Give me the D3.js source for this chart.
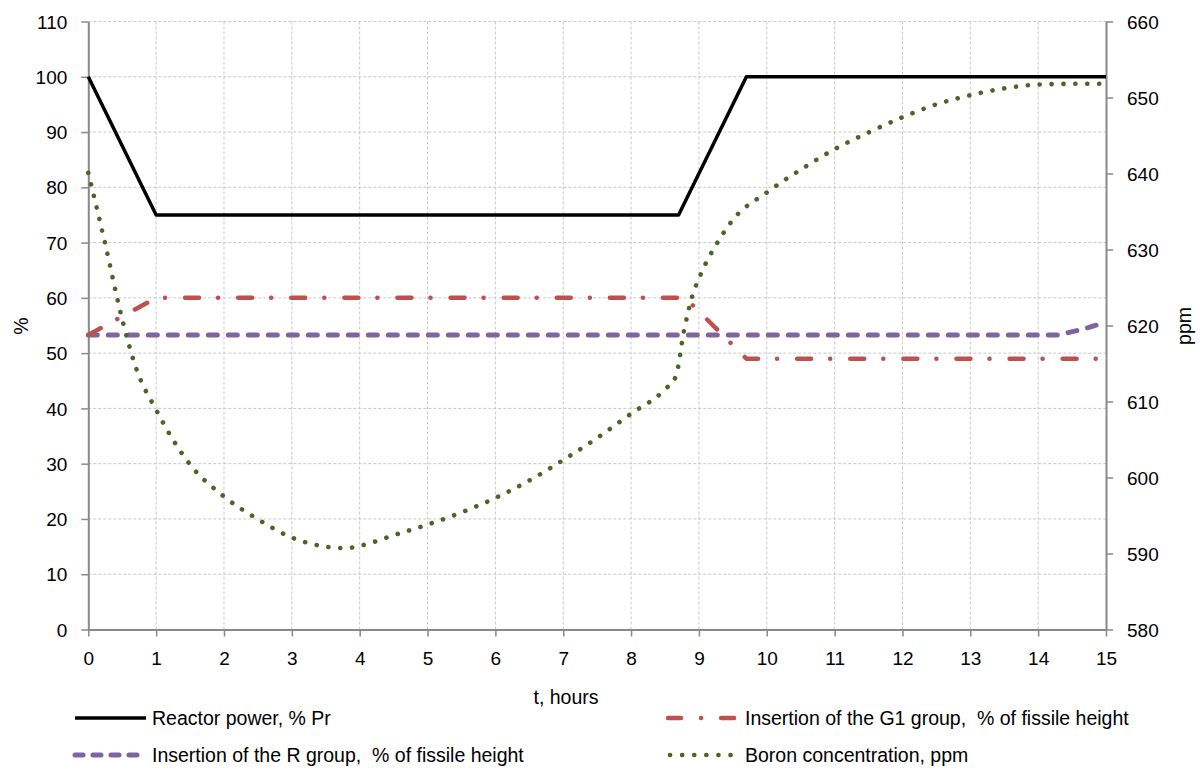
<!DOCTYPE html>
<html>
<head>
<meta charset="utf-8">
<script src="https://cdn.jsdelivr.net/npm/d3@7"></script>
<style>
  html, body { margin: 0; padding: 0; background: #fff; }
  text { font-family: "Liberation Sans", Arial, sans-serif; fill: #000; white-space: pre; }
</style>
</head>
<body>
<svg id="chart" width="1202" height="772"></svg>
<script>
// ---- Data ----
const xTicks = [0,1,2,3,4,5,6,7,8,9,10,11,12,13,14,15];
const yLeftTicks = [0,10,20,30,40,50,60,70,80,90,100,110];
const yRightTicks = [580,590,600,610,620,630,640,650,660];

const powerT = [0, 1, 8.7, 9.7, 15];
const powerV = [100, 75, 75, 100, 100];

const g1T = [0, 1, 8.8, 9.7, 15];
const g1V = [53.3, 60, 60, 49, 49];

const rT = [0, 14.3, 14.65, 15];
const rV = [53.3, 53.3, 54.3, 55.6];

const boronT = [0, 0.25, 0.5, 0.7, 1, 1.5, 2, 2.5, 3, 3.5, 3.8, 4, 4.5, 5, 5.5, 6, 6.5, 7, 7.5, 8, 8.5, 8.66, 8.78, 8.9, 9.03, 9.3, 9.5, 10, 10.5, 11, 11.5, 12, 12.5, 13, 13.5, 14, 14.5, 15];
const boronV = [640.1, 630.7, 620.8, 614.5, 608.9, 601.7, 597.5, 594.5, 592.1, 590.9, 590.7, 591.0, 592.4, 593.8, 595.4, 597.3, 599.6, 602.3, 605.2, 608.4, 611.6, 613.3, 619.3, 623.8, 626.8, 631.3, 633.9, 637.5, 640.5, 643.2, 645.4, 647.4, 649.1, 650.3, 651.2, 651.7, 651.8, 651.8];

const legendLabels = [
  "Reactor power, % Pr",
  "Insertion of the G1 group,  % of fissile height",
  "Insertion of the R group,  % of fissile height",
  "Boron concentration, ppm"
];

// ---- Layout ----
const svg = d3.select("#chart");
const L = 88.3, R = 1106, T = 21.5, B = 629.5;
const x = d3.scaleLinear().domain([0, 15]).range([L, R]);
const yL = d3.scaleLinear().domain([0, 110]).range([B, T]);
const yR = d3.scaleLinear().domain([580, 660]).range([B, T]);

const axisColor = "#898989";
const gridColor = "#c8c8c8";

// gridlines
const grid = svg.append("g");
grid.selectAll("line.h").data(yLeftTicks.slice(1)).enter().append("line")
  .attr("x1", L).attr("x2", R).attr("y1", d => yL(d)).attr("y2", d => yL(d))
  .attr("stroke", gridColor).attr("stroke-width", 1).attr("stroke-dasharray", "3,2");
grid.selectAll("line.v").data(xTicks.slice(1, -1)).enter().append("line")
  .attr("x1", d => x(d)).attr("x2", d => x(d)).attr("y1", T).attr("y2", B)
  .attr("stroke", gridColor).attr("stroke-width", 1).attr("stroke-dasharray", "3,2");

// axes
function styleAxis(g) {
  g.select(".domain").attr("stroke", axisColor).attr("stroke-width", 2);
  g.selectAll(".tick line").attr("stroke", axisColor).attr("stroke-width", 1.5);
  g.selectAll(".tick text").style("font-size", "19px").style("font-family", "'Liberation Sans', Arial, sans-serif").attr("fill", "#000");
}
const gx = svg.append("g").attr("transform", `translate(0,${B})`)
  .call(d3.axisBottom(x).tickValues(xTicks).tickFormat(d3.format("d")).tickSizeInner(7).tickSizeOuter(0).tickPadding(15));
styleAxis(gx);
const gyl = svg.append("g").attr("transform", `translate(${L},0)`)
  .call(d3.axisLeft(yL).tickValues(yLeftTicks).tickFormat(d3.format("d")).tickSizeInner(7).tickSizeOuter(0).tickPadding(14));
styleAxis(gyl);
const gyr = svg.append("g").attr("transform", `translate(${R},0)`)
  .call(d3.axisRight(yR).tickValues(yRightTicks).tickFormat(d3.format("d")).tickSizeInner(7).tickSizeOuter(0).tickPadding(14));
styleAxis(gyr);
gyl.selectAll(".tick text").attr("dy", "0.35em");
gyr.selectAll(".tick text").attr("dy", "0.35em");

// axis titles
svg.append("text").attr("transform", "translate(28,326) rotate(-90)").attr("text-anchor", "middle")
  .style("font-size", "19.5px").text("%");
svg.append("text").attr("transform", "translate(1191,326) rotate(-90)").attr("text-anchor", "middle")
  .style("font-size", "19.5px").text("ppm");
svg.append("text").attr("x", 566).attr("y", 704).attr("text-anchor", "middle")
  .style("font-size", "19.5px").text("t, hours");

// series styles
const styles = [
  { color: "#000000", width: 3.5, dash: null, cap: "butt" },
  { color: "#C0504D", width: 4.5, dash: "14,19,0.1,20", cap: "round" },
  { color: "#8064A2", width: 5, dash: "9,11", cap: "round" },
  { color: "#4F6228", width: 4.6, dash: "0.1,11.8", cap: "round" }
];

const lineL = d3.line().x(d => x(d[0])).y(d => yL(d[1]));
const lineR = d3.line().x(d => x(d[0])).y(d => yR(d[1])).curve(d3.curveMonotoneX);

function draw(pathD, s) {
  const p = svg.append("path").attr("d", pathD).attr("fill", "none")
    .attr("stroke", s.color).attr("stroke-width", s.width)
    .attr("stroke-linecap", s.cap).attr("stroke-linejoin", "round");
  if (s.dash) p.attr("stroke-dasharray", s.dash);
}

draw(lineL(rT.map((t, i) => [t, rV[i]])), styles[2]);
draw(lineL(g1T.map((t, i) => [t, g1V[i]])), styles[1]);
draw(lineR(boronT.map((t, i) => [t, boronV[i]])), styles[3]);
draw(lineL(powerT.map((t, i) => [t, powerV[i]])), styles[0]);

// legend
const legendPos = [
  { x1: 75, x2: 146, y: 718, tx: 152 },
  { x1: 668, x2: 738, y: 718, tx: 745 },
  { x1: 75, x2: 146, y: 755, tx: 152 },
  { x1: 670, x2: 738, y: 755, tx: 745 }
];
const legendStyles = [
  { dash: null },
  { dash: "13,20,0.1,20" },
  { dash: "8,10" },
  { dash: "0.1,12" }
];
legendLabels.forEach((lab, i) => {
  const p = legendPos[i], s = styles[i];
  const ln = svg.append("line").attr("x1", p.x1).attr("x2", p.x2).attr("y1", p.y).attr("y2", p.y)
    .attr("stroke", s.color).attr("stroke-width", s.width).attr("stroke-linecap", s.cap);
  if (legendStyles[i].dash) ln.attr("stroke-dasharray", legendStyles[i].dash);
  svg.append("text").attr("x", p.tx).attr("y", p.y).attr("dy", "0.35em")
    .style("font-size", "19.5px").text(lab);
});
</script>
</body>
</html>
